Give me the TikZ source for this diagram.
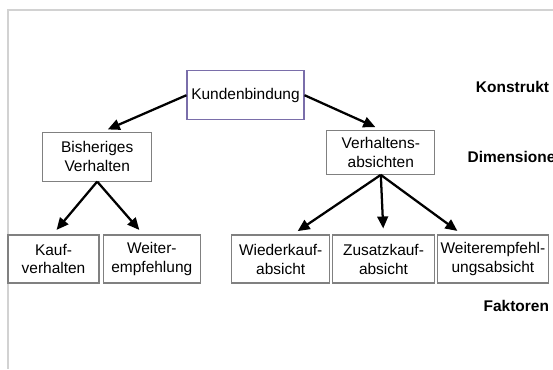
\documentclass[tikz,border=0pt]{standalone}
\usepackage{fontspec}
\setmainfont{Liberation Sans}
\usetikzlibrary{arrows.meta}

\definecolor{boxgray}{RGB}{128,128,128}
\definecolor{framegray}{RGB}{210,210,210}
\definecolor{konstruktviolett}{RGB}{122,110,170}

\begin{document}
\begin{tikzpicture}[x=0.75pt, y=-0.75pt, font=\fontsize{11.6}{14.2}\selectfont,
  kasten/.style={draw=boxgray, line width=0.8pt, align=center, inner sep=0},
  ebene/.style={font=\fontsize{11.6}{14.2}\selectfont\bfseries},
  pfeil/.style={line width=1.7pt, shorten >=4.5pt, -{Triangle[length=9pt,width=8pt]}}]

\useasboundingbox (0,0) rectangle (553,369);

% Rahmen
\draw[framegray, line width=1.5pt] (553,10) -- (7.5,10) -- (7.5,369);

% Ebenen
\node[ebene] (konstrukt) at (512.5,87) {Konstrukt};
\node[ebene, anchor=west] (dimensionen) at (463,157) {Dimensionen};
\node[ebene] (faktoren) at (516.3,305.7) {Faktoren};

% Konstrukt
\node[kasten, draw=konstruktviolett, minimum width=87.75pt, minimum height=36.4pt] (kb) at (245.5,95.2) {Kundenbindung};

% Dimensionen
\node[kasten, minimum width=81.75pt, minimum height=36.5pt] (bv) at (97.2,156.7) {Bisheriges\\Verhalten};
\node[kasten, minimum width=81.2pt, minimum height=33.2pt] (va) at (380.8,152.2) {Verhaltens-\\absichten};

% Faktoren
\node[kasten, minimum width=68.25pt, minimum height=36pt] (kv) at (53.5,259) {Kauf-\\verhalten};
\node[kasten, minimum width=72.75pt, minimum height=36pt] (we) at (151.8,259) {Weiter-\\empfehlung};
\node[kasten, minimum width=73.5pt, minimum height=36pt] (wk) at (280.7,259) {Wiederkauf-\\absicht};
\node[kasten, minimum width=76.5pt, minimum height=36pt] (zk) at (383.5,259) {Zusatzkauf-\\absicht};
\node[kasten, minimum width=83.25pt, minimum height=36pt] (wa) at (492.9,259) {Weiterempfehl-\\ungsabsicht};

\draw[pfeil] (kb.west) -- ([xshift=3.8pt]bv.north);
\draw[pfeil] (kb.east) -- (va.north);
\draw[pfeil] (bv.south) -- ([xshift=-0.6pt]kv.north);
\draw[pfeil] (bv.south) -- ([xshift=-6.4pt]we.north);
\draw[pfeil] (va.south) -- ([xshift=9pt]wk.north);
\draw[pfeil] (va.south) -- (zk.north);
\draw[pfeil] (va.south) -- ([xshift=-23pt]wa.north);

\end{tikzpicture}
\end{document}
